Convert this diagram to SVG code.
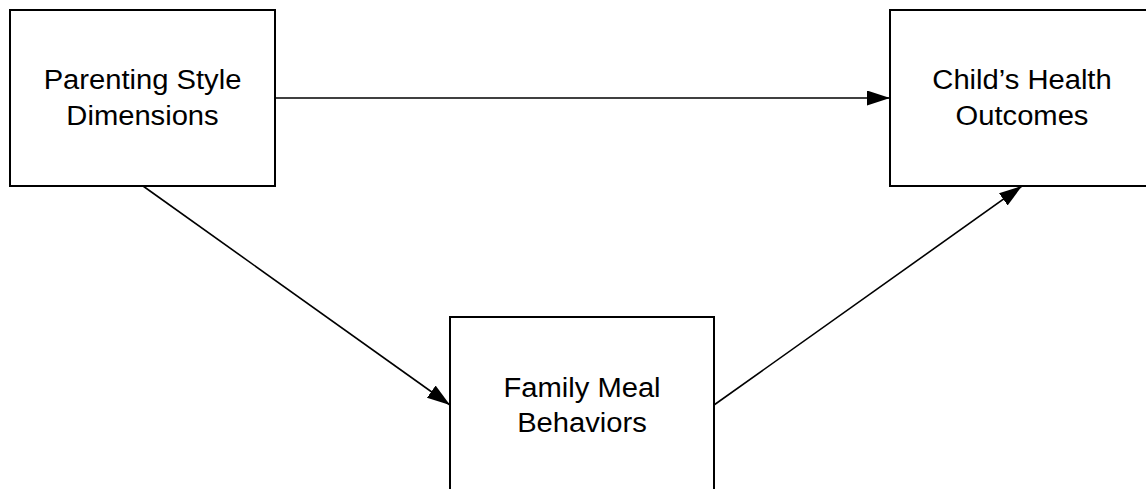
<svg xmlns="http://www.w3.org/2000/svg" width="1146" height="489" viewBox="0 0 1146 489">
<style>
.box{fill:#fff;stroke:#000;stroke-width:2}
.lbl{font-family:"Liberation Sans",Arial,sans-serif;font-size:27px;fill:#000;text-anchor:middle}
.conn{stroke:#000;stroke-width:1.6;fill:none}
</style>
<defs>
<marker id="ah" markerUnits="userSpaceOnUse" markerWidth="24" markerHeight="16" refX="23" refY="7.5" orient="auto">
<path d="M0,0 L23,7.5 L0,15 Z" fill="#000"/>
</marker>
</defs>
<rect width="1146" height="489" fill="#fff"/>
<g id="connectors">
<line class="conn" x1="275" y1="98" x2="890" y2="98" marker-end="url(#ah)"/>
<line class="conn" x1="143" y1="186" x2="450" y2="405" marker-end="url(#ah)"/>
<line class="conn" x1="714" y1="405" x2="1022" y2="186" marker-end="url(#ah)"/>
</g>
<g id="parenting">
<rect class="box" x="10" y="10" width="265" height="176"/>
<text class="lbl" transform="translate(142.5 89) scale(1.08 1)">Parenting Style</text>
<text class="lbl" transform="translate(142.5 124.5) scale(1.08 1)">Dimensions</text>
</g>
<g id="health">
<rect class="box" x="890" y="10" width="265" height="176"/>
<text class="lbl" transform="translate(1022 89) scale(1.08 1)">Child’s Health</text>
<text class="lbl" transform="translate(1022 124.5) scale(1.08 1)">Outcomes</text>
</g>
<g id="meal">
<rect class="box" x="450" y="317" width="264" height="200"/>
<text class="lbl" transform="translate(582 397) scale(1.08 1)">Family Meal</text>
<text class="lbl" transform="translate(582 432) scale(1.08 1)">Behaviors</text>
</g>
</svg>
